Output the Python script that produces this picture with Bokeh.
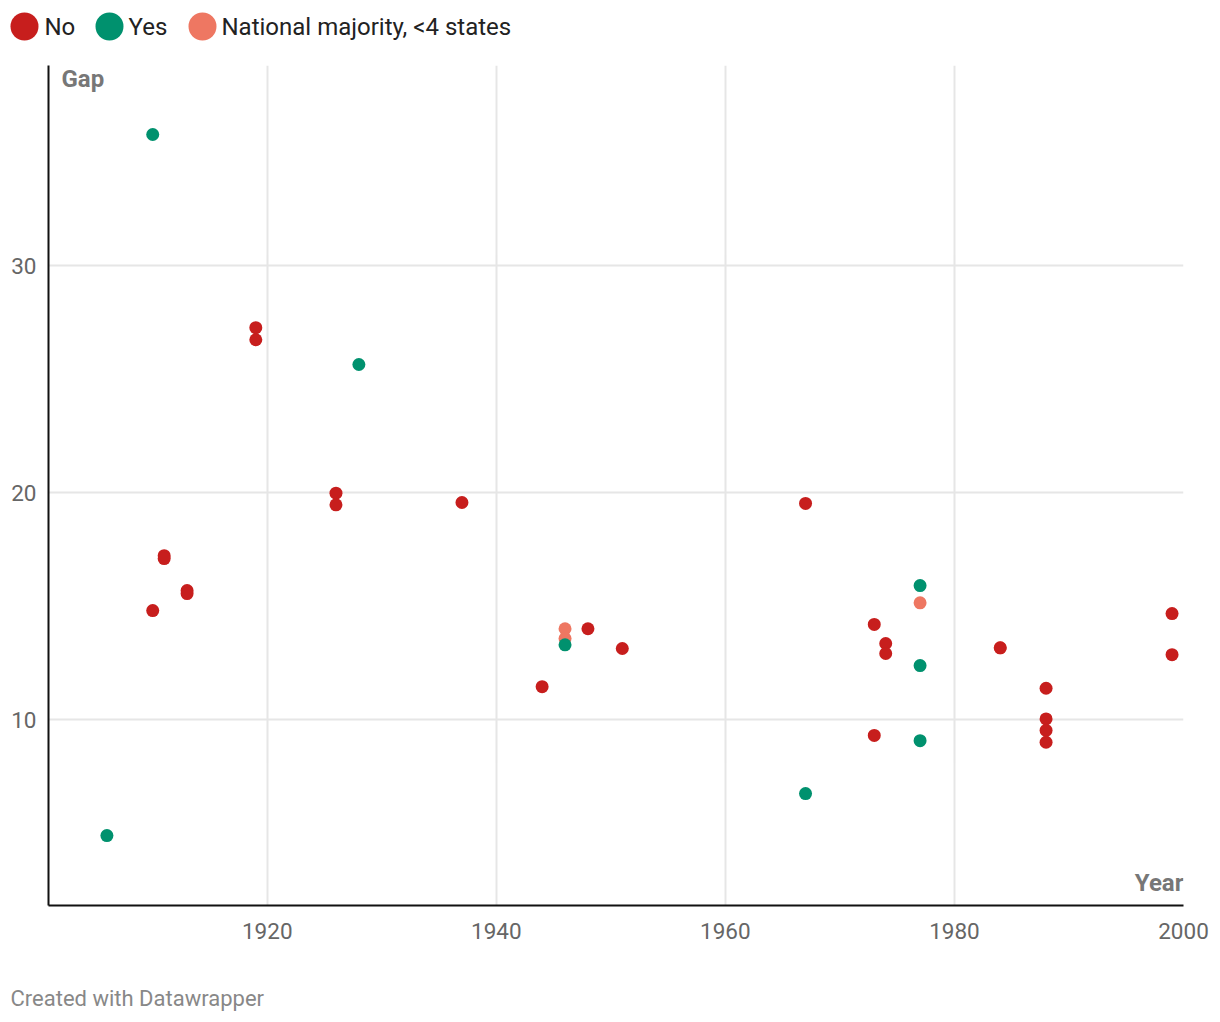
from bokeh.plotting import figure
from bokeh.models import Range1d, FixedTicker, Label
from bokeh.layouts import column
from bokeh.embed import file_html
from bokeh.resources import INLINE
from bokeh.core.properties import value

# ---- data ----
years_no = [1910, 1911, 1911, 1913, 1913, 1919, 1919, 1926, 1926, 1937, 1944, 1948, 1951,
            1967, 1973, 1973, 1974, 1974, 1984, 1988, 1988, 1988, 1988, 1999, 1999]
gap_no = [14.8, 17.22, 17.09, 15.68, 15.55, 27.26, 26.73, 19.97, 19.46, 19.56, 11.45, 14.0, 13.13,
          19.52, 14.19, 9.3, 13.35, 12.91, 13.16, 11.38, 10.03, 9.52, 9.0, 14.67, 12.86]

years_yes = [1906, 1910, 1928, 1946, 1967, 1977, 1977, 1977]
gap_yes = [4.89, 35.77, 25.64, 13.29, 6.74, 15.9, 12.38, 9.07]

years_maj = [1946, 1946, 1977, 1984]
gap_maj = [14.0, 13.57, 15.14, 13.16]

series_names = ["No", "Yes", "National majority, <4 states"]
series_colors = ["#c71e1d", "#00916e", "#ee7762"]

x_ticks = [1920, 1940, 1960, 1980, 2000]
y_ticks = [10, 20, 30]

FONT = "Roboto"
W = 1212


def blank(height):
    f = figure(width=W, height=height, x_range=Range1d(0, W), y_range=Range1d(height, 0),
               output_backend="svg", toolbar_location=None, min_border=0,
               x_axis_location=None, y_axis_location=None)
    f.grid.visible = False
    f.outline_line_color = None
    f.frame_align = False
    return f


# ---- legend strip ----
leg = blank(58)
leg.scatter(x=[24, 109, 202], y=[26, 26, 26], size=28, color=series_colors, line_color=None)
leg.text(x=[44, 128, 221], y=[26, 26, 26], text=series_names, text_font=value(FONT),
         text_font_size="24px", text_baseline="middle", text_align="left", text_color="#222222")

# ---- main plot ----
p = figure(frame_width=1135, frame_height=840, width=W, height=902,
           x_range=Range1d(1900.9, 2000), y_range=Range1d(1.81, 38.81),
           output_backend="svg", toolbar_location=None,
           min_border_left=48, min_border_right=29, min_border_top=7, min_border_bottom=55)
p.outline_line_color = None
p.frame_align = False

p.scatter(years_maj, gap_maj, size=13, color=series_colors[2], line_color=None)
p.scatter(years_no, gap_no, size=13, color=series_colors[0], line_color=None)
p.scatter(years_yes, gap_yes, size=13, color=series_colors[1], line_color=None)

for ax in (p.xaxis[0], p.yaxis[0]):
    ax.axis_line_color = "#111111"
    ax.axis_line_width = 2
    ax.major_tick_line_color = None
    ax.minor_tick_line_color = None
    ax.major_label_text_font = FONT
    ax.major_label_text_font_size = "22.5px"
    ax.major_label_text_color = "#666666"

p.xaxis[0].ticker = FixedTicker(ticks=x_ticks)
p.yaxis[0].ticker = FixedTicker(ticks=y_ticks)
p.xaxis[0].major_label_standoff = 11
p.yaxis[0].major_label_standoff = 6

p.xgrid[0].ticker = FixedTicker(ticks=x_ticks)
p.ygrid[0].ticker = FixedTicker(ticks=y_ticks)
p.grid.grid_line_color = "#e6e6e6"
p.grid.grid_line_width = 2

p.add_layout(Label(x=13, y=827, x_units="screen", y_units="screen", text="Gap",
                   text_font=FONT, text_font_size="24px", text_font_style="bold",
                   text_color="#777777", text_baseline="middle", text_align="left"))
p.add_layout(Label(x=1135, y=23, x_units="screen", y_units="screen", text="Year",
                   text_font=FONT, text_font_size="24px", text_font_style="bold",
                   text_color="#777777", text_baseline="middle", text_align="right"))

# ---- credit strip ----
cr = blank(54)
cr.text(x=[10], y=[38], text=["Created with Datawrapper"], text_font=value(FONT),
        text_font_size="22px", text_baseline="middle", text_align="left", text_color="#888888")

layout = column(leg, p, cr, spacing=0)
open("out.html", "w").write(file_html(layout, INLINE))
